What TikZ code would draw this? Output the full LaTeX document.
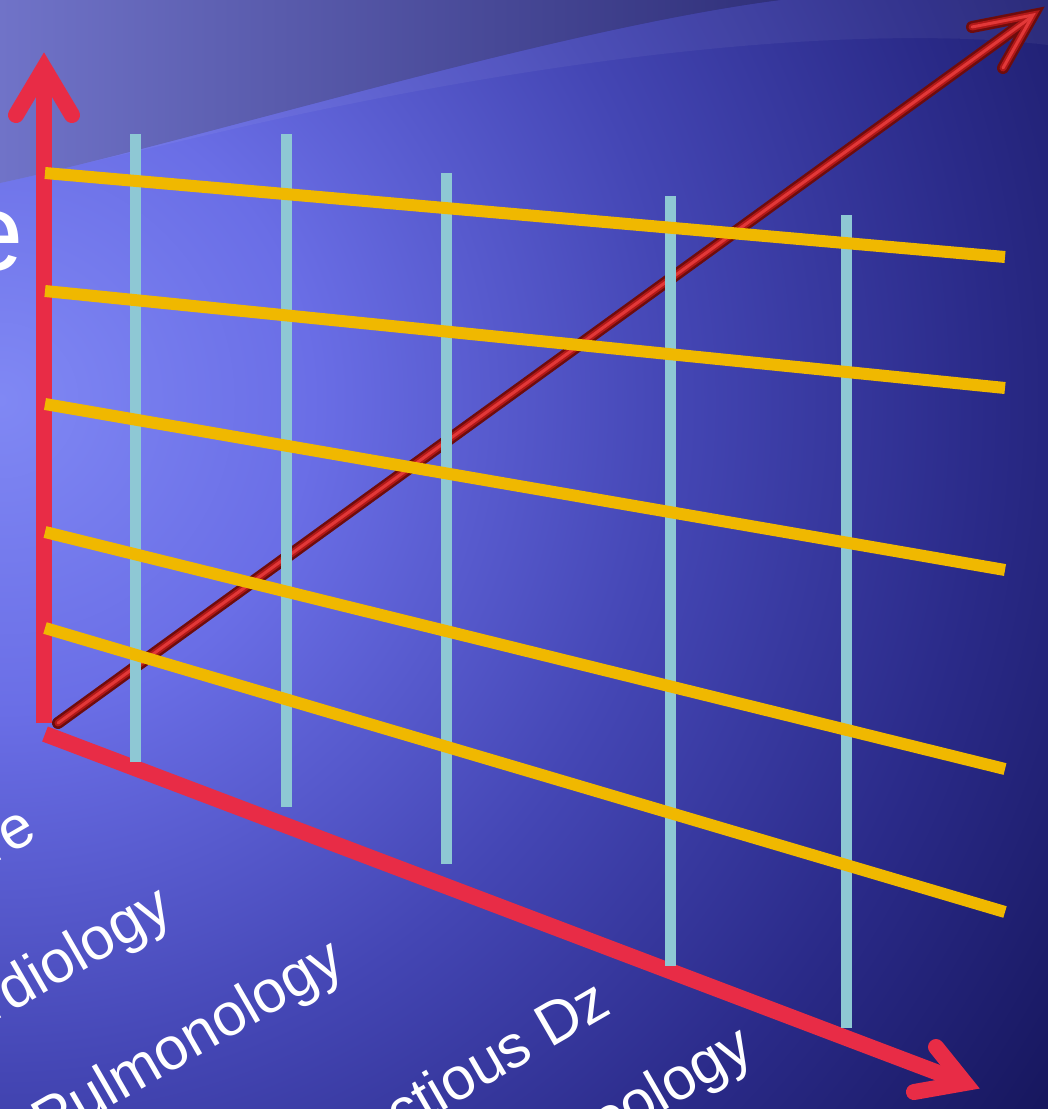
\documentclass[tikz,border=0pt]{standalone}
\usepackage{fontspec}
\setmainfont{Liberation Sans}
\definecolor{axisred}{HTML}{E82C46}
\definecolor{gridteal}{HTML}{8EC8D4}
\definecolor{gridyellow}{HTML}{F0B800}
\definecolor{bgA}{HTML}{8088F4}
\definecolor{bgB}{HTML}{6A6EE6}
\definecolor{bgC}{HTML}{4446B4}
\definecolor{bgD}{HTML}{2A2A88}
\definecolor{bgE}{HTML}{141458}
\definecolor{ovL}{HTML}{7073C8}
\definecolor{ovR}{HTML}{30307A}
\definecolor{rodBase}{HTML}{6E0C0C}
\definecolor{rodEdge}{HTML}{120000}
\definecolor{rodMid}{HTML}{B01818}
\definecolor{rodHi}{HTML}{E23838}
\pgfdeclareradialshading{bgshade}{\pgfpoint{0bp}{0bp}}{color(0bp)=(bgA); color(6bp)=(bgB); color(13bp)=(bgC); color(19bp)=(bgD); color(25bp)=(bgE); color(50bp)=(bgE)}
\tikzset{
  axisline/.style={draw=axisred, line width=16pt},
  axishead/.style={draw=axisred, line width=16pt, line cap=round, line join=miter},
  tealline/.style={draw=gridteal, line width=11pt},
  yellowline/.style={draw=gridyellow, line width=12pt},
  rodA/.style={draw=rodBase, line width=12pt, line cap=round},
  rodD/.style={draw=rodEdge, line width=4pt, line cap=round, shift={(-2.4pt,3.3pt)}},
  rodB/.style={draw=rodMid, line width=7pt, line cap=round, shift={(0.6pt,-0.8pt)}},
  rodC/.style={draw=rodHi, line width=3pt, line cap=round, shift={(0.9pt,-1.2pt)}},
  lbl/.style={text=white, font=\fontsize{60}{72}\selectfont, inner sep=0pt, rotate=30, anchor=base east},
}
\begin{document}
\begin{tikzpicture}[x=1pt,y=-1pt]
\useasboundingbox (0,0) rectangle (1048,1109);
\begin{scope}
\clip (0,0) rectangle (1048,1109);
\shade[shading=bgshade] (0,400) circle (1300pt);
% upper wave band
\fill[white, opacity=0.05] (0,183) .. controls (200,140) and (550,30) .. (780,0) -- (1048,0) -- (1048,45) .. controls (950,33) and (700,25) .. (250,125) -- cycle;
\shade[left color=ovL, right color=ovR] (0,0) -- (0,183) .. controls (200,140) and (550,30) .. (780,0) -- cycle;
\end{scope}

% named points
\coordinate (O) at (44,723);
\coordinate (Yv) at (44,68);
\coordinate (Ya) at (16,115);
\coordinate (Yb) at (72,115);
\coordinate (X0) at (45,734);
\coordinate (Xv) at (965,1083);
\coordinate (Xa) at (936,1047);
\coordinate (Xb) at (914,1092);
\coordinate (R0) at (58,723);
\coordinate (R1) at (1030,18);
\coordinate (Rt) at (1033,15);
\coordinate (Ra) at (972,27);
\coordinate (Rb) at (1003,68);

% 3D rod
\foreach \s in {rodA,rodD,rodB,rodC}{
  \draw[\s] (R0) -- (R1);
  \draw[\s] (Ra) -- (Rt) -- (Rb);
}

% red axes
\draw[axisline] (O) -- (44,80);
\draw[axishead] (Ya) -- (Yv) -- (Yb);
\draw[axisline] (X0) -- (Xv);
\draw[axishead] (Xa) -- (Xv) -- (Xb);

% teal verticals
\draw[tealline] (135,134) -- (135,762);
\draw[tealline] (286,134) -- (286,807);
\draw[tealline] (446,173) -- (446,864);
\draw[tealline] (670,196) -- (670,966);
\draw[tealline] (846,215) -- (846,1028);

% yellow lines
\draw[yellowline] (45,173) -- (1005,257);
\draw[yellowline] (45,291) -- (1005,388);
\draw[yellowline] (45,404) -- (1005,570);
\draw[yellowline] (45,532) -- (1005,769);
\draw[yellowline] (45,628) -- (1005,912);

% labels
\begin{scope}
\clip (0,0) rectangle (1048,1109);
\node[text=white, font=\fontsize{110}{130}\selectfont, inner sep=0pt, anchor=base east] (ylab) at (24,270) {e};
\node[lbl] (l1) at (40,838) {Critical Care};
\node[lbl] (l2) at (176,917) {Cardiology};
\node[lbl] (l3) at (348,970) {Pulmonology};
\node[lbl] (l4) at (614,1012) {Infectious Dz};
\node[lbl] (l5) at (757,1057) {Oncology};
\end{scope}
\end{tikzpicture}
\end{document}
